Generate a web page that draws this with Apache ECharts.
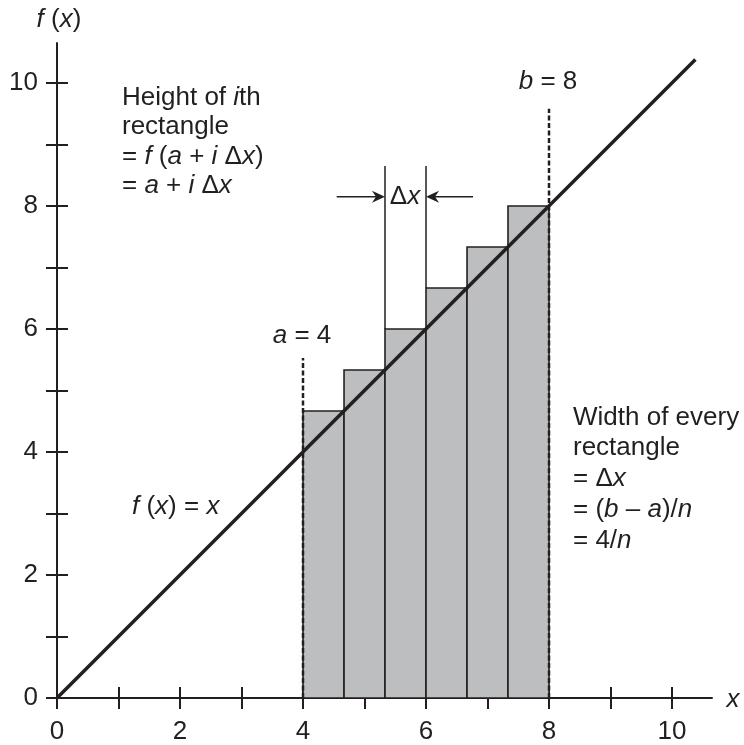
<!DOCTYPE html>
<html><head><meta charset="utf-8">
<script src="https://cdn.jsdelivr.net/npm/echarts@6/dist/echarts.min.js"></script>
<style>html,body{margin:0;padding:0;background:#fff}#c{width:744px;height:745px}</style>
</head><body><div id="c"></div>
<script>
// ---- data ----
const xTicks = [0,1,2,3,4,5,6,7,8,9,10];
const xTickLabels = [0,2,4,6,8,10];
const yTicks = [0,1,2,3,4,5,6,7,8,9,10];
const yTickLabels = [0,2,4,6,8,10];
const fLineX = [0, 10.38];
const fLineY = [0, 10.38];
const rectLeft   = [4, 4.667, 5.333, 6, 6.667, 7.333];
const rectRight  = [4.667, 5.333, 6, 6.667, 7.333, 8];
const rectHeight = [4.667, 5.333, 6, 6.667, 7.333, 8];
const boundX   = [4, 8];
const boundTop = [5.53, 9.58];
const deltaX      = [5.333, 6];
const deltaBottom = [6, 6.667];
const deltaTop    = [8.65, 8.65];
const arrowFromX = [4.548, 6.764];
const arrowToX   = [5.333, 6];
const arrowY     = [8.15, 8.15];

// ---- style ----
const INK = '#231f20';
const FILL = '#bcbec0';
const FONT = "'Liberation Sans', Arial, Helvetica, sans-serif";
const FS = 26;
const rich = {
  n: {fontFamily: FONT, fontSize: FS, fill: INK, color: INK},
  i: {fontFamily: FONT, fontSize: FS, fontStyle: 'italic', fill: INK, color: INK}
};

const chart = echarts.init(document.getElementById('c'), null, {renderer: 'canvas'});

function txt(x, y, text, align) {
  return {type: 'text', x: x, y: y, silent: true,
    style: {text: text, rich: rich, fontFamily: FONT, fontSize: FS, fill: INK,
      align: align || 'left', verticalAlign: 'middle'}};
}

const xMax = 10.65, yMax = 10.65;
function xAxisDef(outer) {
  return {
    type: 'value', min: 0, max: xMax, position: 'bottom', gridIndex: 0,
    splitLine: {show: false},
    axisLine: {show: outer, onZero: false, lineStyle: {color: INK, width: 2}},
    axisTick: {show: true, inside: !outer, length: 11, customValues: xTicks,
      lineStyle: {color: INK, width: 2}},
    axisLabel: {show: outer, customValues: xTickLabels, fontFamily: FONT, fontSize: FS,
      color: INK, margin: 21},
    animation: false
  };
}
function yAxisDef(outer) {
  return {
    type: 'value', min: 0, max: yMax, position: 'left', gridIndex: 0,
    splitLine: {show: false},
    axisLine: {show: outer, onZero: false, lineStyle: {color: INK, width: 2}},
    axisTick: {show: true, inside: !outer, length: 11, customValues: yTicks,
      lineStyle: {color: INK, width: 2}},
    axisLabel: {show: outer, customValues: yTickLabels, fontFamily: FONT, fontSize: FS,
      color: INK, margin: 19},
    animation: false
  };
}

const rectData = rectLeft.map((l, k) => [l, rectRight[k], rectHeight[k]]);
const fData = fLineX.map((x, k) => [x, fLineY[k]]);
const boundData = boundX.map((x, k) => [x, boundTop[k]]);
const deltaData = deltaX.map((x, k) => [x, deltaBottom[k], deltaTop[k]]);
const arrowData = arrowFromX.map((x, k) => [x, arrowToX[k], arrowY[k]]);

const option = {
  animation: false,
  backgroundColor: '#fff',
  grid: {left: 57, right: 32, top: 43, bottom: 47, containLabel: false},
  xAxis: [xAxisDef(true), xAxisDef(false)],
  yAxis: [yAxisDef(true), yAxisDef(false)],
  series: [
    { // rectangles
      type: 'custom', z: 1, silent: true,
      data: rectData, encode: {x: [0, 1], y: 2},
      renderItem: function (params, api) {
        const p0 = api.coord([api.value(0), 0]);
        const p1 = api.coord([api.value(1), api.value(2)]);
        return {type: 'rect',
          shape: {x: p0[0], y: p1[1], width: p1[0] - p0[0], height: p0[1] - p1[1]},
          style: {fill: FILL, stroke: INK, lineWidth: 1.6}};
      }
    },
    { // dashed bounds a and b
      type: 'custom', z: 2, silent: true,
      data: boundData, encode: {x: 0, y: 1},
      renderItem: function (params, api) {
        const p0 = api.coord([api.value(0), 0]);
        const p1 = api.coord([api.value(0), api.value(1)]);
        return {type: 'line', shape: {x1: p0[0], y1: p0[1], x2: p1[0], y2: p1[1]},
          style: {stroke: INK, lineWidth: 2.5, lineDash: [5, 2.5]}};
      }
    },
    { // delta-x guide lines
      type: 'custom', z: 2, silent: true,
      data: deltaData, encode: {x: 0, y: [1, 2]},
      renderItem: function (params, api) {
        const p0 = api.coord([api.value(0), api.value(1)]);
        const p1 = api.coord([api.value(0), api.value(2)]);
        return {type: 'line', shape: {x1: p0[0], y1: p0[1], x2: p1[0], y2: p1[1]},
          style: {stroke: INK, lineWidth: 1.5}};
      }
    },
    { // arrows
      type: 'custom', z: 2, silent: true,
      data: arrowData, encode: {x: [0, 1], y: 2},
      renderItem: function (params, api) {
        const a = api.coord([api.value(0), api.value(2)]);
        const b = api.coord([api.value(1), api.value(2)]);
        const dx = b[0] - a[0], dy = b[1] - a[1];
        const len = Math.sqrt(dx * dx + dy * dy);
        const ux = dx / len, uy = dy / len, px = -uy, py = ux;
        const L = 13, W = 6, N = 9;
        const head = [
          [b[0], b[1]],
          [b[0] - ux * L + px * W, b[1] - uy * L + py * W],
          [b[0] - ux * N, b[1] - uy * N],
          [b[0] - ux * L - px * W, b[1] - uy * L - py * W]
        ];
        return {type: 'group', children: [
          {type: 'line', shape: {x1: a[0], y1: a[1], x2: b[0] - ux * N, y2: b[1] - uy * N},
            style: {stroke: INK, lineWidth: 1.5}},
          {type: 'polygon', shape: {points: head}, style: {fill: INK}}
        ]};
      }
    },
    { // f(x) = x
      type: 'line', z: 3, silent: true, symbol: 'none',
      data: fData,
      lineStyle: {color: INK, width: 3.5}
    }
  ],
  graphic: [
    txt(59, 20, '{i|f} ({i|x})', 'center'),
    txt(733, 700, '{i|x}', 'center'),
    txt(122, 98, 'Height of {i|i}th'),
    txt(122, 127, 'rectangle'),
    txt(122, 157, '= {i|f} ({i|a} + {i|i} Δ{i|x})'),
    txt(122, 186, '= {i|a} + {i|i} Δ{i|x}'),
    txt(573, 418, 'Width of every'),
    txt(573, 448, 'rectangle'),
    txt(573, 479, '= Δ{i|x}'),
    txt(573, 510, '= ({i|b} – {i|a})/{i|n}'),
    txt(573, 541, '= 4/{i|n}'),
    txt(132, 507, '{i|f} ({i|x}) = {i|x}'),
    txt(302, 336, '{i|a} = 4', 'center'),
    txt(548, 82, '{i|b} = 8', 'center'),
    txt(405, 197, 'Δ{i|x}', 'center')
  ]
};
chart.setOption(option);
</script>
</body></html>
